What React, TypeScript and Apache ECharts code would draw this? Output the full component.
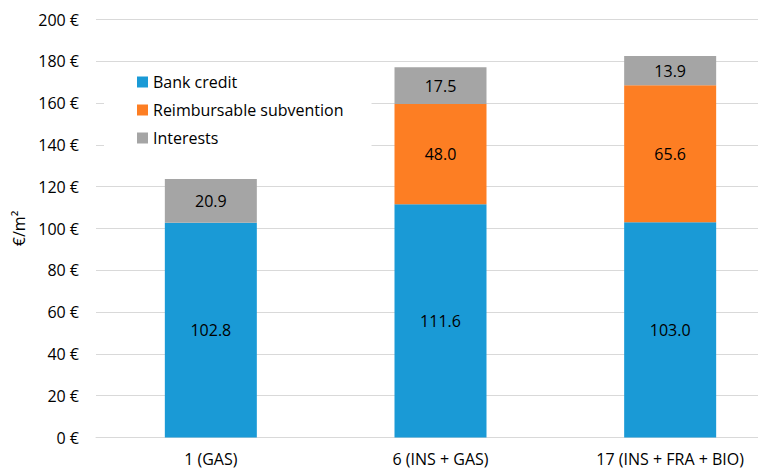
import React, { useEffect, useRef } from "react";
import * as echarts from "echarts";

const categories = ["1 (GAS)", "6 (INS + GAS)", "17 (INS + FRA + BIO)"];
const bankCredit = [102.8, 111.6, 103.0];
const subvention = [0, 48.0, 65.6];
const interests = [20.9, 17.5, 13.9];
const seriesNames = ["Bank credit", "Reimbursable subvention", "Interests"];
const colors = ["#1a9ad6", "#fd7e23", "#a5a5a5"];

const FONT = "'Open Sans', 'Liberation Sans', sans-serif";

export default function App() {
  const ref = useRef<HTMLDivElement>(null);
  useEffect(() => {
    if (!ref.current) return;
    const chart = echarts.init(ref.current, null, { renderer: "svg" });
    const label = {
      show: true,
      position: "inside",
      color: "#000",
      fontSize: 16,
      fontFamily: FONT,
      formatter: (p: any) => (p.value ? Number(p.value).toFixed(1) : ""),
    };
    const mk = (name: string, data: number[], color: string) => ({
      name,
      type: "bar",
      stack: "total",
      data,
      barWidth: 92,
      itemStyle: { color },
      label,
      emphasis: { disabled: true },
    });
    chart.setOption({
      animation: false,
      textStyle: { fontFamily: FONT },
      grid: {
        left: 96,
        top: 19.5,
        width: 689,
        height: 418,
        containLabel: false,
        outerBoundsMode: "none",
      },
      legend: {
        orient: "vertical",
        left: 104,
        top: 65,
        padding: [9, 28, 5, 33],
        backgroundColor: "#ffffff",
        itemWidth: 11,
        itemHeight: 11,
        itemGap: 12,
        icon: "rect",
        textStyle: { fontSize: 16, color: "#000", fontFamily: FONT, padding: [0, 0, 0, 0] },
        data: seriesNames,
        z: 10,
      },
      xAxis: {
        type: "category",
        data: categories,
        axisLine: { lineStyle: { color: "#d9d9d9", width: 1 } },
        axisTick: { show: false },
        axisLabel: { color: "#000", fontSize: 16, fontFamily: FONT, margin: 13 },
      },
      yAxis: {
        type: "value",
        min: 0,
        max: 200,
        interval: 20,
        name: "€/m²",
        nameLocation: "middle",
        nameGap: 68,
        nameRotate: 90,
        nameTextStyle: { color: "#000", fontSize: 16, fontFamily: FONT },
        axisLine: { show: false },
        axisTick: { show: false },
        axisLabel: { color: "#000", fontSize: 16, fontFamily: FONT, margin: 17, formatter: "{value} €" },
        splitLine: { lineStyle: { color: "#d9d9d9", width: 1 } },
      },
      series: [
        mk(seriesNames[0], bankCredit, colors[0]),
        mk(seriesNames[1], subvention, colors[1]),
        mk(seriesNames[2], interests, colors[2]),
      ],
    });
    return () => chart.dispose();
  }, []);
  return (
    <div
      ref={ref}
      style={{ position: "fixed", left: 0, top: 0, width: 758, height: 470, background: "#fff" }}
    />
  );
}
